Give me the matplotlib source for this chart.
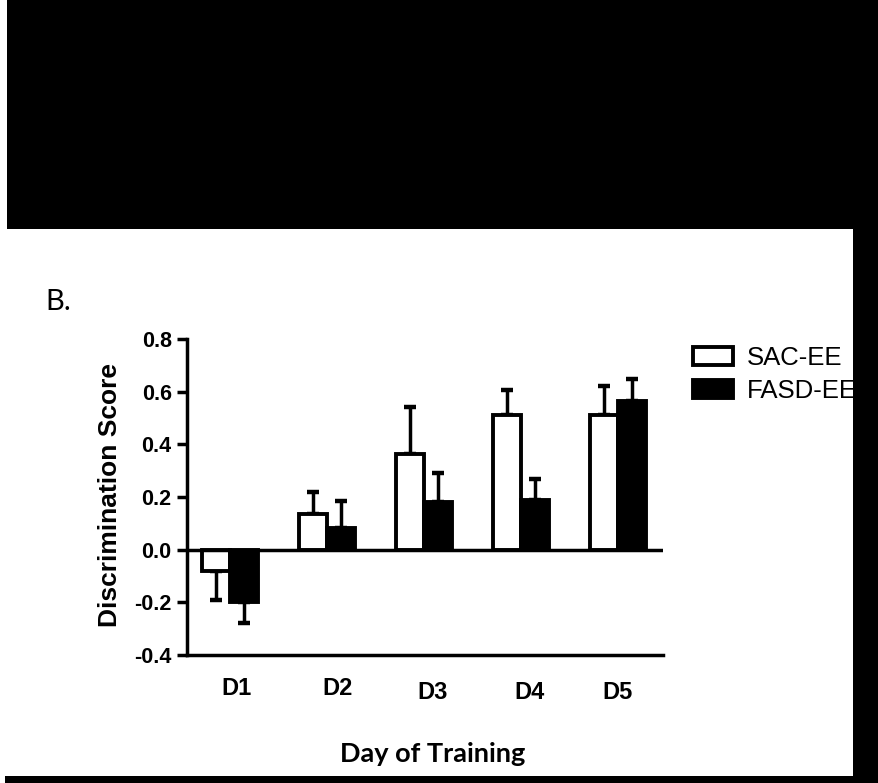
import matplotlib
matplotlib.use("Agg")
import matplotlib.pyplot as plt
from matplotlib.patches import Rectangle
from matplotlib.ticker import FormatStrFormatter
import matplotlib.transforms as mtransforms

plt.rcParams['axes.unicode_minus'] = False
plt.rcParams['font.family'] = ['Liberation Sans', 'DejaVu Sans']

# ---- data ----
days = ["D1", "D2", "D3", "D4", "D5"]
sac_ee = [-0.08, 0.137, 0.365, 0.513, 0.51]
sac_err = [0.11, 0.083, 0.175, 0.095, 0.11]
fasd_ee = [-0.20, 0.084, 0.18, 0.19, 0.566]
fasd_err = [0.08, 0.10, 0.11, 0.08, 0.083]
series_names = ["SAC-EE", "FASD-EE"]
yticks = [-0.4, -0.2, 0.0, 0.2, 0.4, 0.6, 0.8]

W, H = 879, 783
fig = plt.figure(figsize=(W / 100, H / 100), dpi=100)
fig.patch.set_facecolor("white")

ax = fig.add_axes([187 / W, 1 - 655 / H, (663 - 187) / W, (655 - 339) / H])
ax.set_xlim(-0.443, 4.464)
ax.set_ylim(-0.4, 0.8)

bw = 0.29
lw = 2.8
x = list(range(len(days)))


def one_sided(vals, errs):
    lower = [e if v < 0 else 0 for v, e in zip(vals, errs)]
    upper = [e if v >= 0 else 0 for v, e in zip(vals, errs)]
    return [lower, upper]


xs_sac = [i - bw / 2 for i in x]
xs_fasd = [i + bw / 2 for i in x]

ax.errorbar(xs_sac, sac_ee, yerr=one_sided(sac_ee, sac_err), fmt="none",
            ecolor="black", elinewidth=2.5, capsize=4.5, capthick=3.2, zorder=2)
ax.errorbar(xs_fasd, fasd_ee, yerr=one_sided(fasd_ee, fasd_err), fmt="none",
            ecolor="black", elinewidth=2.5, capsize=4.5, capthick=3.2, zorder=2)
b1 = ax.bar(xs_sac, sac_ee, width=bw, facecolor="white", edgecolor="black",
            linewidth=lw, zorder=3, label=series_names[0])
b2 = ax.bar(xs_fasd, fasd_ee, width=bw, facecolor="black", edgecolor="black",
            linewidth=lw, zorder=3, label=series_names[1])

ax.axhline(0, color="black", linewidth=2.5, zorder=4)

for s in ["top", "right"]:
    ax.spines[s].set_visible(False)
for s in ["left", "bottom"]:
    ax.spines[s].set_linewidth(2.5)

ax.set_yticks(yticks)
ax.yaxis.set_major_formatter(FormatStrFormatter("%.1f"))
ax.tick_params(axis="y", direction="out", length=7, width=2.5, pad=4,
               labelsize=15.5)
for lab in ax.get_yticklabels():
    lab.set_fontweight("bold")
ax.set_xticks([])

# x category labels (pasted in at slightly irregular heights)
label_dx = [0.07, 0.11, 0.09, 0.09, 0.0]
label_dy = [-0.105, -0.105, -0.120, -0.120, -0.118]
trans = mtransforms.blended_transform_factory(ax.transData, ax.transAxes)
for i, d in enumerate(days):
    ax.text(i + label_dx[i], label_dy[i], d, transform=trans, ha="center",
            va="center", fontsize=17, fontweight="bold")

fig.text(110 / W, 1 - 495 / H, "Discrimination Score", rotation=90,
         ha="center", va="center", fontsize=19, fontweight="bold")
fig.text(433 / W, 1 - 754 / H, "Day of Training", ha="center", va="center",
         fontsize=19.5, fontweight="bold", family=["Lato", "DejaVu Sans"])
fig.text(45 / W, 1 - 302 / H, "B.", ha="left", va="center", fontsize=21,
         family=["Lato", "DejaVu Sans"])

leg = fig.legend(handles=[b1, b2], labels=series_names, loc="upper left",
                 bbox_to_anchor=(693 / W, 1 - 346 / H), frameon=False,
                 borderpad=0, borderaxespad=0, fontsize=18.5,
                 handlelength=1.55, handleheight=0.75, handletextpad=0.55,
                 labelspacing=0.35)

# black masking regions of the scanned figure
fig.patches.append(Rectangle((7 / W, 1 - 229 / H), 1, 229 / H,
                             transform=fig.transFigure, facecolor="black",
                             edgecolor="none", zorder=10))
fig.patches.append(Rectangle((853 / W, 0), 26 / W, 1,
                             transform=fig.transFigure, facecolor="black",
                             edgecolor="none", zorder=10))
fig.patches.append(Rectangle((5 / W, 0), 1, 7 / H,
                             transform=fig.transFigure, facecolor="black",
                             edgecolor="none", zorder=10))

fig.savefig("out.png", dpi=100, facecolor="white")
